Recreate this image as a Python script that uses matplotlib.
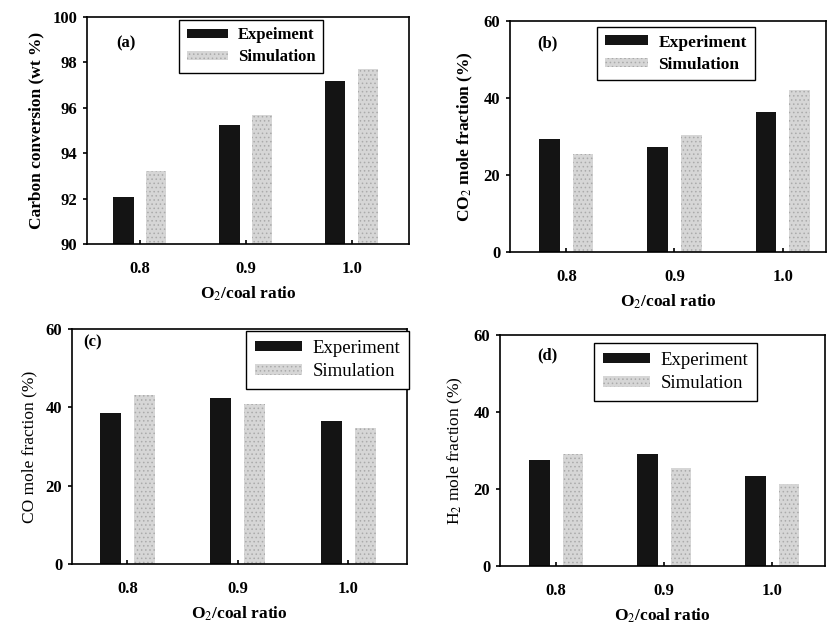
import matplotlib
matplotlib.use("Agg")
import matplotlib.pyplot as plt
import numpy as np

ratios = ["0.8", "0.9", "1.0"]

carbon_exp = [92.05, 95.25, 97.2]
carbon_sim = [93.2, 95.7, 97.7]

co2_exp = [29.4, 27.2, 36.4]
co2_sim = [25.5, 30.4, 42.0]

co_exp = [38.6, 42.4, 36.6]
co_sim = [43.2, 40.8, 34.8]

h2_exp = [27.6, 29.0, 23.4]
h2_sim = [29.0, 25.5, 21.4]

plt.rcParams['font.family'] = ['Liberation Serif', 'DejaVu Serif']
plt.rcParams['mathtext.fontset'] = 'stix'
plt.rcParams['hatch.linewidth'] = 0.6

W, H = 829, 627
fig = plt.figure(figsize=(W / 100, H / 100), dpi=100)


def make_ax(l, r, t, b):
    return fig.add_axes([l / W, (H - b) / H, (r - l) / W, (b - t) / H])


EXP_C = '#141414'
SIM_C = '#d6d6d6'


def panel(ax, exp, sim, ylim, yticks, ylabel, tag, tagpos, legpos, xlim,
          leg_labels, bold=True, legsize=12):
    x = np.arange(len(ratios))
    w = 0.19
    ax.bar(x - 0.155, exp, w, bottom=0, color=EXP_C, label=leg_labels[0])
    ax.bar(x + 0.155, sim, w, bottom=0, facecolor=SIM_C, edgecolor='#aaaaaa',
           linewidth=0, hatch='....', label=leg_labels[1])
    ax.set_ylim(*ylim)
    ax.set_xlim(*xlim)
    ax.set_yticks(yticks)
    ax.set_yticklabels([str(v) for v in yticks], fontsize=12, fontweight='bold')
    ax.set_xticks(x)
    ax.set_xticklabels(ratios, fontsize=12, fontweight='bold')
    ax.tick_params(axis='x', direction='in', length=3, width=1.2, pad=12)
    ax.tick_params(axis='y', direction='out', length=3, width=1.2, pad=4)
    for s in ax.spines.values():
        s.set_linewidth(1.2)
        s.set_color('black')
    fw = 'bold' if bold else 'normal'
    ax.set_ylabel(ylabel, fontsize=12.5, fontweight=fw, labelpad=6)
    ax.set_xlabel('O$_2$/coal ratio', fontsize=12.5, fontweight='bold', labelpad=6)
    ax.text(tagpos[0], tagpos[1], tag, transform=ax.transAxes, fontsize=12,
            fontweight='bold', ha='center', va='center')
    leg = ax.legend(loc='upper left', bbox_to_anchor=legpos, fancybox=False,
                    framealpha=1, edgecolor='black', handlelength=2.5,
                    handleheight=0.5, borderpad=0.45, labelspacing=0.35,
                    handletextpad=0.6, borderaxespad=0,
                    prop={'family': 'Liberation Serif', 'size': legsize,
                          'weight': fw})
    leg.get_frame().set_linewidth(1.0)


ax_a = make_ax(87, 409, 17, 244)
panel(ax_a, carbon_exp, carbon_sim, (90, 100), [90, 92, 94, 96, 98, 100],
      'Carbon conversion (wt %)', '(a)', (0.12, 0.885), (0.286, 0.987),
      (-0.5, 2.54), ['Expeiment', 'Simulation'], legsize=12)

ax_b = make_ax(510, 826, 21, 252)
panel(ax_b, co2_exp, co2_sim, (0, 60), [0, 20, 40, 60],
      'CO$_2$ mole fraction (%)', '(b)', (0.117, 0.905), (0.275, 0.975),
      (-0.52, 2.4), ['Experiment', 'Simulation'], legsize=12.5)

ax_c = make_ax(72, 407, 329, 564)
panel(ax_c, co_exp, co_sim, (0, 60), [0, 20, 40, 60],
      'CO mole fraction (%)', '(c)', (0.06, 0.945), (0.52, 0.99),
      (-0.5, 2.53), ['Experiment', 'Simulation'], bold=False, legsize=13.5)

ax_d = make_ax(500, 825, 335, 566)
panel(ax_d, h2_exp, h2_sim, (0, 60), [0, 20, 40, 60],
      'H$_2$ mole fraction (%)', '(d)', (0.145, 0.913), (0.29, 0.965),
      (-0.52, 2.49), ['Experiment', 'Simulation'], bold=False, legsize=13.5)

fig.savefig('out.png', dpi=100)
